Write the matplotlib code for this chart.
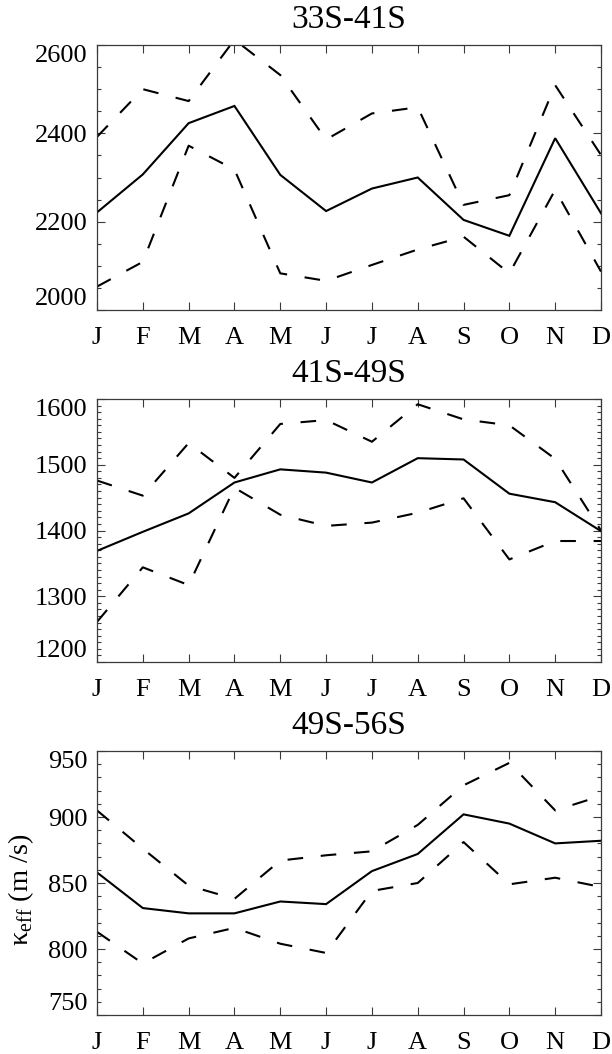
import matplotlib
matplotlib.use("Agg")
import matplotlib.pyplot as plt
from matplotlib.ticker import MultipleLocator

plt.rcParams['font.family'] = ['Liberation Serif', 'DejaVu Serif']
plt.rcParams['mathtext.fontset'] = 'custom'
plt.rcParams['mathtext.rm'] = 'Liberation Serif'

months = ['J', 'F', 'M', 'A', 'M', 'J', 'J', 'A', 'S', 'O', 'N', 'D']

titles = ['33S-41S', '41S-49S', '49S-56S']

p1_mean = [2221, 2307, 2423, 2462, 2306, 2224, 2275, 2300, 2204, 2168, 2389, 2219]
p1_upper = [2392, 2500, 2473, 2612, 2532, 2386, 2445, 2459, 2238, 2260, 2509, 2351]
p1_lower = [2053, 2109, 2372, 2318, 2083, 2066, 2102, 2137, 2166, 2083, 2272, 2087]

p2_mean = [1369, 1398, 1426, 1473, 1493, 1488, 1473, 1510, 1508, 1456, 1443, 1399]
p2_upper = [1476, 1453, 1533, 1480, 1562, 1568, 1535, 1592, 1569, 1560, 1509, 1400]
p2_lower = [1261, 1344, 1317, 1465, 1424, 1407, 1412, 1427, 1449, 1356, 1384, 1384]

p3_mean = [858, 831, 827, 827, 836, 834, 859, 872, 902, 895, 880, 882]
p3_upper = [905, 876, 848, 838, 867, 871, 874, 894, 924, 941, 905, 916]
p3_lower = [813, 789, 808, 816, 804, 797, 844, 850, 881, 849, 854, 847]

y_ticks = [[2000, 2200, 2400, 2600], [1200, 1300, 1400, 1500, 1600], [750, 800, 850, 900, 950]]
y_minor = [50, 10, 10]

panels = [(p1_mean, p1_upper, p1_lower),
          (p2_mean, p2_upper, p2_lower),
          (p3_mean, p3_upper, p3_lower)]

W, H = 612, 1054
fig = plt.figure(figsize=(W / 100, H / 100), dpi=100)

boxes = [(45, 310), (399, 662), (751, 1015)]
left_px, right_px = 97, 601
frame_col = '#3a3a3a'
fs = 19

x = list(range(len(months)))
for i, ((top, bot), (mean, up, lo)) in enumerate(zip(boxes, panels)):
    ax = fig.add_axes([left_px / W, 1 - bot / H, (right_px - left_px) / W, (bot - top) / H])
    ax.plot(x, mean, color='black', lw=1.5, solid_joinstyle='miter')
    ax.plot(x, up, color='black', lw=1.5, dashes=(7.5, 8.5), dash_capstyle='butt')
    ax.plot(x, lo, color='black', lw=1.5, dashes=(7.5, 8.5), dash_capstyle='butt')
    ax.set_xlim(0, 11)
    ax.set_ylim(y_ticks[i][0], y_ticks[i][-1])
    ax.set_xticks(x)
    ax.set_xticklabels(months, fontsize=fs)
    ax.set_yticks(y_ticks[i])
    ax.set_yticklabels([str(v) for v in y_ticks[i]], fontsize=fs)
    ax.yaxis.set_minor_locator(MultipleLocator(y_minor[i]))
    ax.tick_params(axis='both', which='both', direction='in', top=True, right=True,
                   color=frame_col, width=0.8)
    ax.tick_params(axis='both', which='major', length=5.5)
    ax.tick_params(axis='y', which='minor', length=3)
    ax.tick_params(axis='x', which='major', pad=12)
    ax.tick_params(axis='y', which='major', pad=7)
    for s in ax.spines.values():
        s.set_color(frame_col)
        s.set_linewidth(0.9)
    labs = ax.get_yticklabels()
    labs[0].set_va('bottom')
    labs[-1].set_va('top')
    ax.set_title(titles[i], fontsize=24, pad=12)

fig.text(21 / W, 1 - 890 / H, 'κ$_{\\mathrm{eff}}$ (m /s)', rotation=90,
         ha='center', va='center', fontsize=20.5)

fig.savefig('out.png', dpi=100)
